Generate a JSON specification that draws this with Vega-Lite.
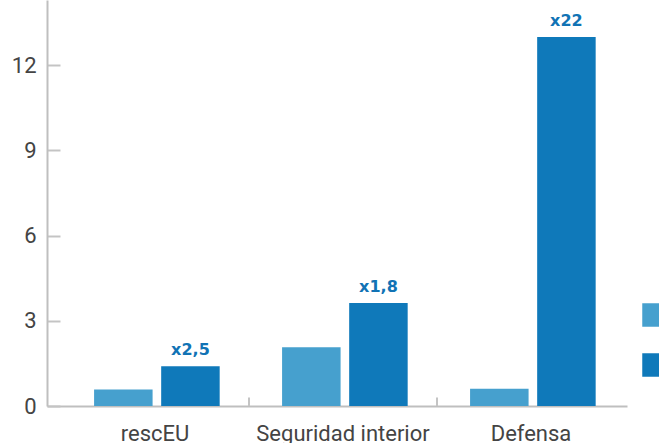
{
  "$schema": "https://vega.github.io/schema/vega-lite/v6.json",
  "width": 580,
  "height": 406,
  "autosize": {"type": "none"},
  "padding": {"left": 47, "top": 0, "right": 32, "bottom": 37},
  "background": "white",
  "config": {
    "view": {"stroke": null},
    "font": "Roboto",
    "axis": {"labelFont": "Roboto", "labelFontSize": 22, "labelColor": "#444444", "domainColor": "#bfbfbf", "domainWidth": 2, "grid": false, "title": null}
  },
  "datasets": {
    "bars": [
      {"area": "rescEU", "periodo": "2021-2027", "valor": 0.58},
      {"area": "rescEU", "periodo": "2028-2034", "valor": 1.40, "etiqueta": "x2,5"},
      {"area": "Seguridad interior", "periodo": "2021-2027", "valor": 2.07},
      {"area": "Seguridad interior", "periodo": "2028-2034", "valor": 3.63, "etiqueta": "x1,8"},
      {"area": "Defensa", "periodo": "2021-2027", "valor": 0.61},
      {"area": "Defensa", "periodo": "2028-2034", "valor": 13.0, "etiqueta": "x22"}
    ],
    "limites": [
      {"area": "Seguridad interior", "desde": 0, "hasta": 0.3},
      {"area": "Defensa", "desde": 0, "hasta": 0.3}
    ]
  },
  "layer": [
    {
      "data": {"name": "bars"},
      "mark": {"type": "bar"},
      "encoding": {
        "x": {
          "field": "area", "type": "nominal", "sort": ["rescEU", "Seguridad interior", "Defensa"],
          "scale": {"paddingInner": 0, "paddingOuter": 0.0426, "align": 0.875},
          "axis": {"ticks": false, "labelAngle": 0, "labelPadding": 17, "labelBaseline": "top"}
        },
        "xOffset": {
          "field": "periodo", "type": "nominal",
          "scale": {"paddingInner": 0.128, "paddingOuter": 0.465, "align": 0.53}
        },
        "y": {
          "field": "valor", "type": "quantitative",
          "scale": {"domain": [0, 14.3], "nice": false, "zero": true},
          "axis": {"values": [0, 3, 6, 9, 12], "tickSize": -13, "tickColor": "#c4c4c4", "tickWidth": 2, "labelPadding": 24}
        },
        "color": {
          "field": "periodo", "type": "nominal",
          "scale": {"domain": ["2021-2027", "2028-2034"], "range": ["#46A0CE", "#0F79BA"]},
          "legend": {
            "orient": "none", "legendX": 595, "legendY": 303, "title": null,
            "symbolType": "square", "symbolSize": 552, "symbolStrokeWidth": 0, "symbolOpacity": 1,
            "rowPadding": 26, "labelExpr": "''", "labelFontSize": 18, "labelColor": "#444444", "labelOffset": 12
          }
        }
      }
    },
    {
      "data": {"name": "bars"},
      "transform": [{"filter": "isValid(datum.etiqueta)"}],
      "mark": {"type": "text", "font": "DejaVu Sans", "fontWeight": "bold", "fontSize": 16, "color": "#1173B5", "baseline": "alphabetic", "dy": -11},
      "encoding": {
        "x": {"field": "area", "type": "nominal", "sort": ["rescEU", "Seguridad interior", "Defensa"]},
        "xOffset": {"field": "periodo", "type": "nominal"},
        "y": {"field": "valor", "type": "quantitative"},
        "text": {"field": "etiqueta"}
      }
    },
    {
      "data": {"name": "limites"},
      "mark": {"type": "rule", "color": "#c4c4c4", "strokeWidth": 2},
      "encoding": {
        "x": {"field": "area", "type": "nominal", "sort": ["rescEU", "Seguridad interior", "Defensa"], "bandPosition": 0},
        "y": {"field": "desde", "type": "quantitative"},
        "y2": {"field": "hasta"}
      }
    }
  ]
}
